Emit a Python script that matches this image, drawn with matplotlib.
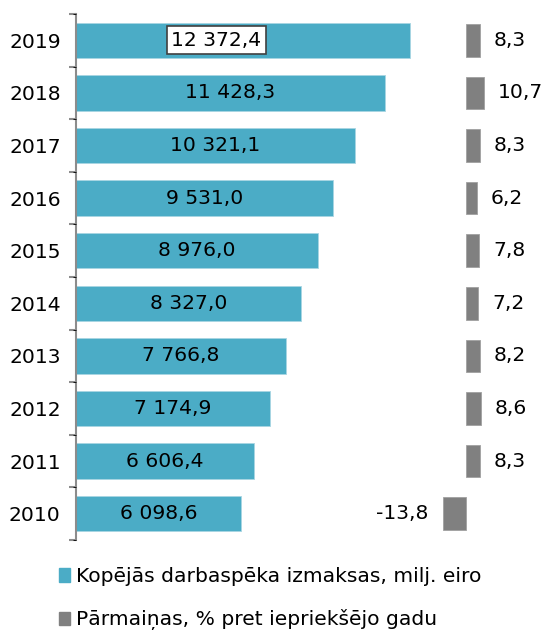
import matplotlib
matplotlib.use("Agg")
import matplotlib.pyplot as plt
from matplotlib.patches import Patch
import numpy as np

years = ["2010", "2011", "2012", "2013", "2014", "2015", "2016", "2017", "2018", "2019"]
costs = [6098.6, 6606.4, 7174.9, 7766.8, 8327.0, 8976.0, 9531.0, 10321.1, 11428.3, 12372.4]
changes = [-13.8, 8.3, 8.6, 8.2, 7.2, 7.8, 6.2, 8.3, 10.7, 8.3]
legend_labels = ["Kopējās darbaspēka izmaksas, milj. eiro", "Pārmaiņas, % pret iepriekšējo gadu"]

TEAL = "#4BACC6"
GRAY = "#808080"
FS = 14.6

W, H = 550, 630
fig = plt.figure(figsize=(W / 100, H / 100), dpi=100)

left_px, right_px = 76, 550
top_px, bot_px = 14, 540
rect = [left_px / W, 1 - bot_px / H, (right_px - left_px) / W, (bot_px - top_px) / H]

ax = fig.add_axes(rect)
ax2 = fig.add_axes(rect, sharey=ax)
ax2.patch.set_visible(False)

def fmt(v):
    s = f"{v:,.1f}".replace(",", " ").replace(".", ",")
    return s

y = np.arange(len(years))
ax.barh(y, costs, height=0.67, color=TEAL, edgecolor="#A8D5E2", linewidth=0.6)
ax.set_xlim(0, max(costs) * (right_px - left_px) / (410 - left_px))
ax.set_ylim(-0.5, len(years) - 0.5)

for i, v in enumerate(costs):
    if i == len(costs) - 1:
        ax.text(v * 0.42, i, fmt(v), ha="center", va="center", fontsize=FS,
                color="black",
                bbox=dict(boxstyle="square,pad=0.22", facecolor="white", edgecolor="#404040", linewidth=1.2))
    else:
        ax.text(v / 2, i, fmt(v), ha="center", va="center", fontsize=FS, color="black")

# percent axis: zero at x=466 px, 1.7 px per percent
ppu = 1.7
zero_px = 466
ax2.set_xlim(-(zero_px - left_px) / ppu, (right_px - zero_px) / ppu)
ax2.barh(y, changes, height=0.62, color=GRAY, edgecolor="#A0A0A0", linewidth=0.6)
gap = 14 / ppu
for i, v in enumerate(changes):
    if v >= 0:
        ax2.text(v + gap, i, fmt(v), ha="left", va="center", fontsize=FS)
    else:
        ax2.text(v - gap, i, fmt(v), ha="right", va="center", fontsize=FS)

for a in (ax, ax2):
    for s in ["top", "right", "bottom"]:
        a.spines[s].set_visible(False)
    a.set_xticks([])
ax2.spines["left"].set_visible(False)
ax2.tick_params(left=False, labelleft=False)

ax.spines["left"].set_color("#8C8C8C")
ax.spines["left"].set_linewidth(1.5)
ax.set_yticks(y)
ax.set_yticklabels(years, fontsize=FS)
ax.tick_params(axis="y", which="major", length=0, pad=11)
ax.set_yticks(np.arange(-0.5, len(years), 1), minor=True)
ax.tick_params(axis="y", which="minor", length=5, width=1.5, color="#8C8C8C")

handles = [Patch(facecolor=TEAL, edgecolor=TEAL), Patch(facecolor=GRAY, edgecolor=GRAY)]
fig.legend(handles, legend_labels, loc="upper left", bbox_to_anchor=(51 / W, 1 - 559 / H),
           frameon=False, fontsize=FS, handlelength=0.55, handleheight=0.65,
           handletextpad=0.3, labelspacing=1.15, borderaxespad=0)

fig.savefig("out.png", dpi=100)
